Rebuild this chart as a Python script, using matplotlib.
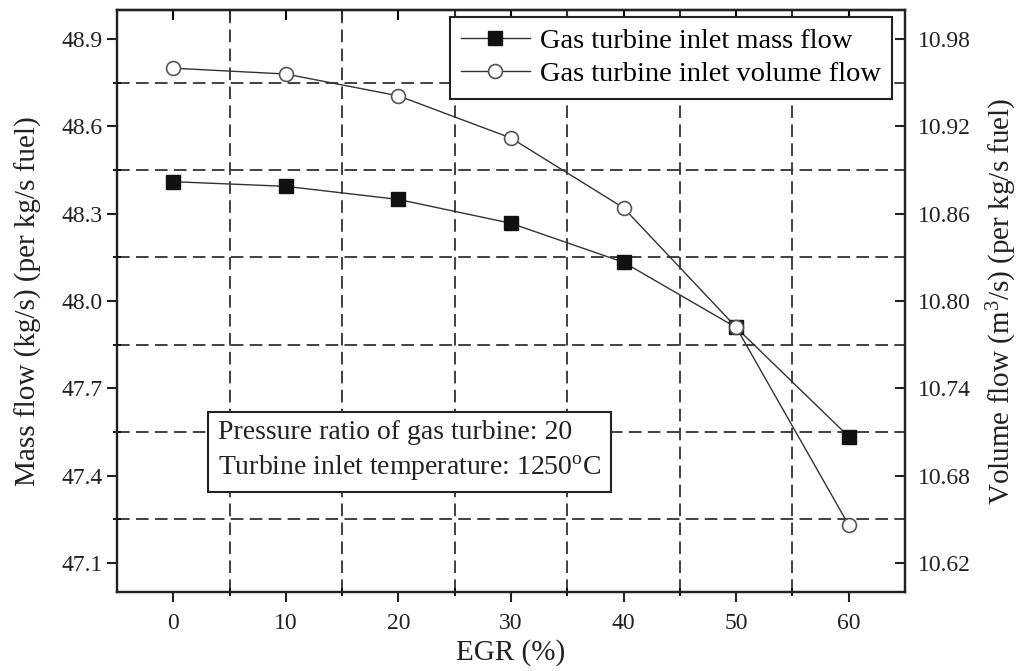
import numpy as np
import matplotlib
matplotlib.use("Agg")
import matplotlib.pyplot as plt
from matplotlib.ticker import FixedLocator, FormatStrFormatter

plt.rcParams['font.family'] = ['Liberation Serif', 'DejaVu Serif']
plt.rcParams['mathtext.fontset'] = 'custom'
plt.rcParams['mathtext.rm'] = 'Liberation Serif'
plt.rcParams['mathtext.it'] = 'Liberation Serif:italic'

egr = [0, 10, 20, 30, 40, 50, 60]
mass_flow = [48.41, 48.394, 48.349, 48.267, 48.133, 47.909, 47.534]
volume_flow = [10.960, 10.956, 10.941, 10.912, 10.864, 10.782, 10.646]
x_ticks = [0, 10, 20, 30, 40, 50, 60]
left_ticks = [47.1, 47.4, 47.7, 48.0, 48.3, 48.6, 48.9]
right_ticks = [10.62, 10.68, 10.74, 10.80, 10.86, 10.92, 10.98]

fig = plt.figure(figsize=(10.24, 6.71), dpi=100)
ax = fig.add_axes([117/1024, 79/671, (905-117)/1024, (592-10)/671])
ax2 = ax.twinx()

ink = '#222222'
fs = 17

ax.set_xlim(-5, 65)
ax.set_ylim(47.0, 49.0)
ax2.set_ylim(10.60, 11.00)

ax.set_xticks(x_ticks)
ax.set_yticks(left_ticks)
ax.yaxis.set_major_formatter(FormatStrFormatter('%.1f'))
ax2.set_yticks(right_ticks)
ax2.yaxis.set_major_formatter(FormatStrFormatter('%.2f'))
ax.xaxis.set_minor_locator(FixedLocator(np.arange(5, 60, 10)))
ax.yaxis.set_minor_locator(FixedLocator(np.arange(47.25, 49.0, 0.3)))
ax2.yaxis.set_minor_locator(FixedLocator([]))

ax.grid(which='minor', color='#333333', linestyle=(0, (7, 3.5)), linewidth=1.3)
ax.grid(which='major', visible=False)
ax.set_axisbelow(True)

ax.tick_params(axis='both', which='major', direction='out', length=7, width=1.5,
               labelsize=fs, colors=ink, top=False, right=False)
ax.tick_params(axis='x', which='major', pad=8)
ax.tick_params(axis='both', which='minor', direction='inout', length=6, width=1.3,
               top=False, right=False)
ax2.tick_params(axis='y', which='major', direction='in', length=7, width=1.5,
                labelsize=fs, colors=ink, pad=9)

sec = ax.secondary_xaxis('top')
sec.set_xticks(np.arange(0, 61, 5))
sec.tick_params(direction='in', length=7, width=1.5, labeltop=False)

for a in (ax, ax2, sec):
    for s in a.spines.values():
        s.set_linewidth(1.6)
        s.set_color(ink)

l1, = ax.plot(egr, mass_flow, color='#333333', linewidth=1.0, marker='s',
              markersize=10.5, markerfacecolor='#111111', markeredgecolor='#111111',
              label='Gas turbine inlet mass flow', zorder=5)
l2, = ax2.plot(egr, volume_flow, color='#333333', linewidth=1.0, marker='o',
               markersize=10, markerfacecolor='white', markeredgecolor='#555555',
               markeredgewidth=1.2, label='Gas turbine inlet volume flow', zorder=5)

ax.set_xlabel('EGR (%)', fontsize=21, color=ink, labelpad=4)
ax.set_ylabel('Mass flow (kg/s) (per kg/s fuel)', fontsize=21, color=ink, labelpad=14)
ax2.set_ylabel('Volume flow (m$^3$/s) (per kg/s fuel)', fontsize=21, color=ink, labelpad=10)

leg = ax2.legend(handles=[l1, l2], loc='upper right',
                 bbox_to_anchor=(892/1024, 1 - 17/671), bbox_transform=fig.transFigure,
                 borderaxespad=0, fancybox=False, framealpha=1, edgecolor=ink,
                 fontsize=20.5, handlelength=2.4, handletextpad=0.35,
                 borderpad=0.4, labelspacing=0.25)
leg.get_frame().set_linewidth(1.5)

fig.text(218/1024, 1 - 451/671,
         'Pressure ratio of gas turbine: 20\nTurbine inlet temperature: 1250$^\\mathregular{o}$C',
         fontsize=20, color=ink, va='center', ha='left', linespacing=1.4,
         bbox=dict(boxstyle='square,pad=0.35', facecolor='white', edgecolor=ink, linewidth=1.5),
         zorder=10)

fig.savefig('out.png', dpi=100)
